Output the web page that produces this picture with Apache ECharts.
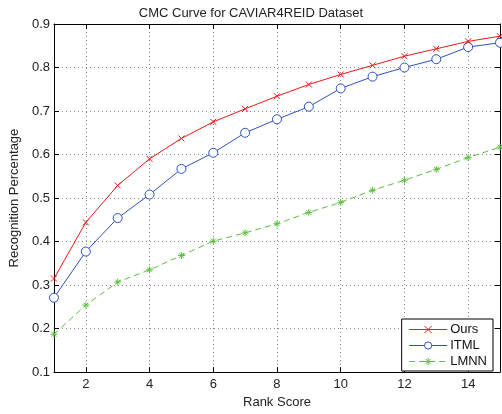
<!DOCTYPE html>
<html>
<head>
<meta charset="utf-8">
<script src="https://cdn.jsdelivr.net/npm/echarts@6/dist/echarts.min.js"></script>
<style>
  html, body { margin: 0; padding: 0; background: #fff; }
  #chart { width: 502px; height: 414px; }
</style>
</head>
<body>
<div id="chart"></div>
<script>
// rank 1..15
var ranks = ["1", "2", "3", "4", "5", "6", "7", "8", "9", "10", "11", "12", "13", "14", "15"];
var ours = [0.315, 0.444, 0.529, 0.590, 0.637, 0.675, 0.705, 0.734, 0.761, 0.784, 0.805, 0.826, 0.843, 0.860, 0.872];
var itml = [0.271, 0.377, 0.454, 0.508, 0.567, 0.604, 0.650, 0.681, 0.710, 0.752, 0.779, 0.800, 0.819, 0.847, 0.857];
var lmnn = [0.187, 0.254, 0.307, 0.335, 0.368, 0.401, 0.420, 0.441, 0.467, 0.490, 0.518, 0.541, 0.566, 0.593, 0.617];

var font = "Liberation Sans, Arial, sans-serif";
var RED = "#f01818", BLUE = "#2f4fbf", GREEN = "#5cc040";

var chart = echarts.init(document.getElementById("chart"));

// 偶数刻度才显示 (2,4,...,14)
var evenOnly = function (index) { return index % 2 === 1; };

var option = {
  animation: false,
  backgroundColor: "#fff",
  title: {
    text: "CMC Curve for CAVIAR4REID Dataset",
    left: "center",
    top: 2,
    textStyle: { fontFamily: font, fontSize: 13, fontWeight: "normal", color: "#222" }
  },
  legend: {
    orient: "vertical",
    right: 9,
    bottom: 43,
    backgroundColor: "#fff",
    borderColor: "#000",
    borderWidth: 1,
    borderRadius: 0,
    padding: [4, 6, 3, 7],
    itemGap: 3,
    itemWidth: 38,
    itemHeight: 9,
    lineStyle: { width: 1 },
    itemStyle: { borderWidth: 1 },
    textStyle: { fontFamily: font, fontSize: 13, color: "#111", padding: [0, 0, 0, -2] },
    data: ["Ours", "ITML", "LMNN"]
  },
  grid: { left: 53, right: 2, top: 24, bottom: 38, containLabel: false },
  xAxis: [
    {
      type: "category",
      data: ranks,
      boundaryGap: false,
      name: "Rank Score",
      nameLocation: "middle",
      nameGap: 20,
      nameTextStyle: { fontFamily: font, fontSize: 13, color: "#222" },
      axisLine: { lineStyle: { color: "#000", width: 1 } },
      axisTick: { inside: true, length: 5, interval: evenOnly, lineStyle: { color: "#000" } },
      axisLabel: { interval: evenOnly, fontFamily: font, fontSize: 13, color: "#222", margin: 6 },
      splitLine: { show: true, interval: evenOnly, lineStyle: { color: "#888", type: [1, 3], width: 1 } }
    },
    {
      type: "category",
      data: ranks,
      boundaryGap: false,
      position: "top",
      axisLine: { lineStyle: { color: "#000", width: 1 } },
      axisTick: { inside: true, length: 5, interval: evenOnly, lineStyle: { color: "#000" } },
      axisLabel: { show: false },
      splitLine: { show: false }
    }
  ],
  yAxis: [
    {
      type: "value",
      min: 0.1,
      max: 0.9,
      interval: 0.1,
      name: "Recognition Percentage",
      nameLocation: "middle",
      nameGap: 23,
      nameTextStyle: { fontFamily: font, fontSize: 13, color: "#222" },
      axisLine: { show: true, lineStyle: { color: "#000", width: 1 } },
      axisTick: { show: true, inside: true, length: 5, lineStyle: { color: "#000" } },
      axisLabel: {
        fontFamily: font, fontSize: 13, color: "#222", margin: 4,
        formatter: function (v) { return v.toFixed(1); }
      },
      splitLine: { show: true, lineStyle: { color: "#888", type: [1, 3], width: 1 } }
    },
    {
      type: "value",
      min: 0.1,
      max: 0.9,
      interval: 0.1,
      position: "right",
      axisLine: { show: true, lineStyle: { color: "#000", width: 1 } },
      axisTick: { show: true, inside: true, length: 5, lineStyle: { color: "#000" } },
      axisLabel: { show: false },
      splitLine: { show: false }
    }
  ],
  series: [
    {
      name: "Ours",
      type: "line",
      data: ours,
      symbol: "path://M0,0L10,10M10,0L0,10",
      symbolSize: 6,
      lineStyle: { color: RED, width: 1 },
      itemStyle: { color: RED, borderColor: RED, borderWidth: 1 },
      z: 4
    },
    {
      name: "ITML",
      type: "line",
      data: itml,
      symbol: "circle",
      symbolSize: 9,
      lineStyle: { color: BLUE, width: 1 },
      itemStyle: { color: "#fff", borderColor: BLUE, borderWidth: 1 },
      z: 3
    },
    {
      name: "LMNN",
      type: "line",
      data: lmnn,
      symbol: "path://M5,0L5,10M0,5L10,5M1.5,1.5L8.5,8.5M8.5,1.5L1.5,8.5",
      symbolSize: 7,
      lineStyle: { color: GREEN, width: 1, type: [6, 4] },
      itemStyle: { color: GREEN, borderColor: GREEN, borderWidth: 1 },
      z: 2
    }
  ]
};

chart.setOption(option);
</script>
</body>
</html>
